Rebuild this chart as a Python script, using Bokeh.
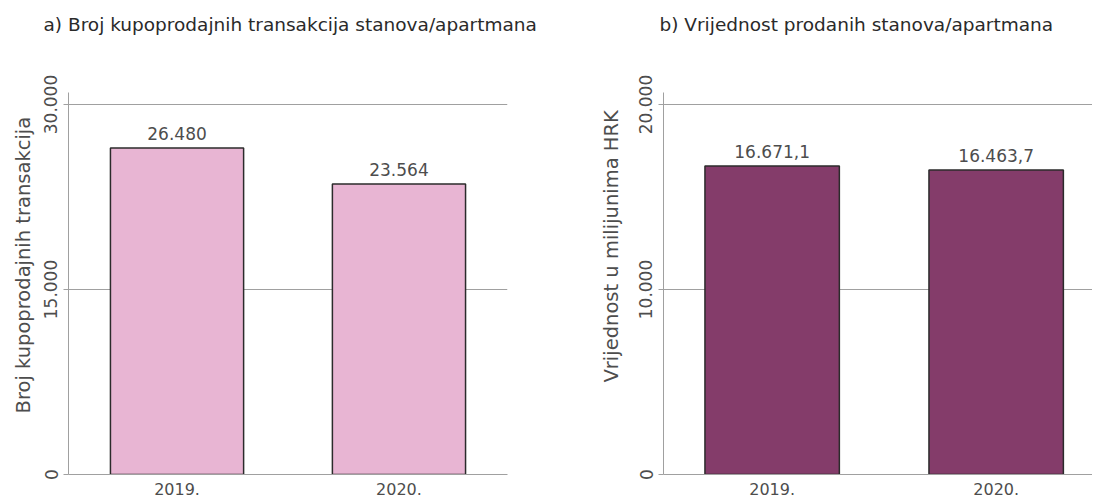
from bokeh.plotting import figure
from bokeh.models import Range1d, FixedTicker, ColumnDataSource, LabelSet, Title
from bokeh.layouts import row
from bokeh.core.properties import value
from bokeh.embed import file_html
from bokeh.resources import INLINE

# ---- data ----
years = ["2019.", "2020."]
transactions = [26480, 23564]
transaction_labels = ["26.480", "23.564"]
values_mhrk = [16671.1, 16463.7]
value_labels = ["16.671,1", "16.463,7"]

left_ticks = [0, 15000, 30000]
left_tick_labels = ["0", "15.000", "30.000"]
right_ticks = [0, 10000, 20000]
right_tick_labels = ["0", "10.000", "20.000"]

title_a = "a) Broj kupoprodajnih transakcija stanova/apartmana"
title_b = "b) Vrijednost prodanih stanova/apartmana"
ylabel_a = "Broj kupoprodajnih transakcija"
ylabel_b = "Vrijednost u milijunima HRK"

FONT = "DejaVu Sans"
TXT = "#4d4d4d"
GRID = "#a0a0a0"


def make(vals, labels, ticks, tick_labels, ymax, xr, color, title, ylabel,
         width, bl, br, title_offset, ylab_offset, ylab_standoff):
    xs = [i + 0.5 for i in range(len(years))]
    src = ColumnDataSource(dict(x=xs, top=vals, lab=labels))
    p = figure(width=width, height=500, output_backend="svg", toolbar_location=None,
               x_range=Range1d(*xr), y_range=Range1d(0, ymax),
               min_border_left=bl, min_border_right=br,
               min_border_top=92, min_border_bottom=26)
    p.outline_line_color = None
    p.background_fill_color = "white"
    p.border_fill_color = "white"
    p.vbar(x="x", top="top", width=0.6, source=src, fill_color=color,
           line_color="#2b2b2b", line_width=1.5)
    p.add_layout(LabelSet(x="x", y="top", text="lab", source=src, text_align="center",
                          text_baseline="alphabetic", y_offset=8, text_font=value(FONT),
                          text_font_size="17px", text_color=TXT))
    # x axis
    p.xaxis.ticker = FixedTicker(ticks=xs)
    p.xaxis.major_label_overrides = {x: y for x, y in zip(xs, years)}
    p.xaxis.axis_line_color = GRID
    p.xaxis.major_tick_line_color = None
    p.xaxis.major_tick_out = 0
    p.xaxis.major_tick_in = 0
    p.xaxis.minor_tick_line_color = None
    p.xaxis.major_label_standoff = 8
    p.xaxis.major_label_text_font = FONT
    p.xaxis.major_label_text_font_size = "16px"
    p.xaxis.major_label_text_color = TXT
    # y axis
    p.yaxis.ticker = FixedTicker(ticks=ticks)
    p.yaxis.major_label_overrides = {t: l for t, l in zip(ticks, tick_labels)}
    p.yaxis.major_label_orientation = "vertical"
    p.yaxis.axis_line_color = GRID
    p.yaxis.major_tick_line_color = GRID
    p.yaxis.major_tick_out = 5
    p.yaxis.major_tick_in = 0
    p.yaxis.minor_tick_line_color = None
    p.yaxis.major_label_standoff = 6
    p.yaxis.major_label_text_font = FONT
    p.yaxis.major_label_text_font_size = "17px"
    p.yaxis.major_label_text_color = TXT
    # grid
    p.xgrid.grid_line_color = None
    p.ygrid.ticker = FixedTicker(ticks=ticks)
    p.ygrid.grid_line_color = GRID
    p.ygrid.grid_line_width = 1
    # y-axis title as a left-side title (placed outside the axis)
    p.add_layout(Title(text=ylabel, align="left", offset=ylab_offset,
                       standoff=ylab_standoff, text_font=FONT, text_font_size="19.5px",
                       text_font_style="normal", text_color=TXT), "left")
    # spacer between frame and chart title, then the chart title
    p.add_layout(Title(text=" ", standoff=55, text_font_size="1px"), "above")
    p.add_layout(Title(text=title, align="left", offset=title_offset, standoff=0,
                       text_font=FONT, text_font_size="18.5px", text_font_style="normal",
                       text_color="#2a2a2a"), "above")
    return p


left = make(transactions, transaction_labels, left_ticks, left_tick_labels, 30973,
            (0.011, 1.989), "#E8B5D3", title_a, ylabel_a, 546, 68, 39, -25, 61, 14)
right = make(values_mhrk, value_labels, right_ticks, right_tick_labels, 20649,
             (0.015, 1.930), "#843C6A", title_b, ylabel_b, 546, 117, 0, -4, 92, 27)

layout = row(left, right, spacing=0)
open("out.html", "w").write(file_html(layout, INLINE))
